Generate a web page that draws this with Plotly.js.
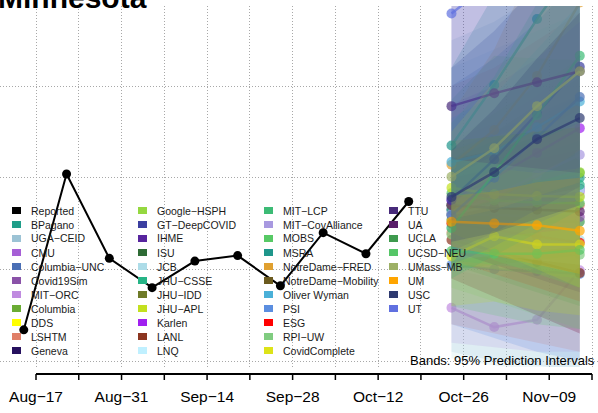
<!DOCTYPE html>
<html><head><meta charset="utf-8">
<script src="https://cdn.plot.ly/plotly-3.0.1.min.js"></script>
<style>html,body{margin:0;padding:0;background:#fff}#chart{width:598px;height:413px}</style>
</head><body><div id="chart"></div>
<script>
// ---------- data ----------
const reportedDates = ['2020-08-15','2020-08-22','2020-08-29','2020-09-05','2020-09-12','2020-09-19','2020-09-26','2020-10-03','2020-10-10','2020-10-17'];
const reportedValues = [43.4, 60.4, 51.2, 48.0, 50.9, 51.5, 48.2, 54.0, 51.7, 57.4];

const forecastDates = ['2020-10-24','2020-10-31','2020-11-07','2020-11-14'];

const tickDates = ['2020-08-17','2020-08-24','2020-08-31','2020-09-07','2020-09-14','2020-09-21','2020-09-28','2020-10-05','2020-10-12','2020-10-19','2020-10-26','2020-11-02','2020-11-09','2020-11-16'];
const tickLabels = ['Aug\u221217','','Aug\u221231','','Sep\u221214','','Sep\u221228','','Oct\u221212','','Oct\u221226','','Nov\u221209',''];
const gridValues = [40, 50, 60, 70];

const legendNames = ['Reported','BPagano','UGA\u2212CEID','CMU','Columbia\u2212UNC','Covid19Sim','MIT\u2212ORC','Columbia','DDS','LSHTM','Geneva',
  'Google\u2212HSPH','GT\u2212DeepCOVID','IHME','ISU','JCB','JHU\u2212CSSE','JHU\u2212IDD','JHU\u2212APL','Karlen','LANL','LNQ',
  'MIT\u2212LCP','MIT\u2212CovAlliance','MOBS','MSRA','NotreDame\u2212FRED','NotreDame\u2212Mobility','Oliver Wyman','PSI','ESG','RPI\u2212UW','CovidComplete',
  'TTU','UA','UCLA','UCSD\u2212NEU','UMass\u2212MB','UM','USC','UT'];
const legendColors = ['#000000','#1f9e89','#9cc3d5','#a65fd6','#4a6fb5','#8a52a8','#c08be0','#6aac34','#ffff00','#e07f68','#26105e',
  '#95d840','#3b3fa0','#57259e','#2e6b35','#addce8','#26b486','#6e7a28','#c3e01f','#a020f0','#8b3520','#c0f0ff',
  '#3cbb75','#a899e0','#57c965','#1f968b','#e0a030','#6b5a1e','#4ab0d8','#5b8ee0','#ff0000','#80cc80','#dde318',
  '#472a7a','#5a1f6a','#3e9a4e','#55c667','#9db066','#ffa500','#2e3a70','#6070e0'];

// forecasting models, in drawing order
const fcModels = ['JCB','MIT\u2212ORC','UGA\u2212CEID','LSHTM','PSI','LANL','RPI\u2212UW','ESG','UCLA','IHME','BPagano','Covid19Sim','Columbia','CMU',
  'LNQ','JHU\u2212CSSE','Google\u2212HSPH','MIT\u2212CovAlliance','Karlen','UA','MOBS','JHU\u2212APL','CovidComplete','UCSD\u2212NEU',
  'NotreDame\u2212FRED','Oliver Wyman','GT\u2212DeepCOVID','Columbia\u2212UNC','MIT\u2212LCP','MSRA','TTU','UT','UMass\u2212MB','UM','USC'];
const fcMedian = [
  [54.5,54.0,53.6,53.2],[45.8,43.7,44.5,49.9],[55.0,56.0,57.0,58.0],[54.0,55.0,56.0,57.0],[50.5,50.0,49.8,49.5],[53.2,52.0,50.8,49.6],
  [53.8,53.0,52.3,51.6],[55.0,54.3,53.6,52.9],[55.4,55.2,55.2,55.2],[56.5,57.5,58.2,58.8],[57.0,58.0,59.0,60.0],[56.0,55.9,55.8,55.7],
  [56.0,57.5,59.0,60.5],[57.0,57.5,58.0,58.5],[56.0,57.0,57.8,58.7],[56.5,57.4,58.3,59.2],[57.0,58.2,59.4,60.6],[56.0,58.0,60.3,62.5],
  [57.5,60.0,62.7,65.4],[57.0,56.7,56.5,56.3],[58.3,57.5,57.3,57.2],[58.9,58.2,58.0,57.9],[51.4,53.6,52.7,52.7],[52.0,51.7,51.7,52.1],
  [61.4,65.2,71.1,79.1],[61.7,62.8,65.5,68.3],[57.6,62.0,67.0,72.1],[55.9,60.0,64.4,68.8],[54.5,60.5,66.8,73.3],[63.5,70.1,77.3,83.8],
  [67.8,69.2,70.4,71.6],[77.9,81.6,85.9,90.3],[60.1,63.2,67.8,71.6],[55.2,55.0,54.8,54.2],[57.9,60.6,64.2,66.5]];
const fcLower = [
  [40.3,39.5,39,38.8],[42,41.5,41,41],[41,40,39.5,39],[44,43,42,41],[44,42.5,41,40],[49,47,45,43],
  [48,46.5,45,43.5],[51,49.5,48,46.5],[50.5,49,47.5,46],[53,53,53,53],[52,52,52,52],[49,47,45,43],
  [50,50.5,51,51.5],[52,51.5,51,50.5],[52,51.5,51,50.5],[51,50.5,50,49.5],[50.5,50,49.5,49],[51,51.5,52,52.5],
  [53,53.5,54,54.5],[52,50.5,49,47.5],[53,51,49.5,48],[54,52,50,48],[46,46.5,45.5,45],[46,45,44,43.5],
  [56,57.5,60,63],[57,56.5,57,57.5],[52,54,56.5,59],[50.5,52.5,55,57],[49,51.5,54,56.5],[58,61,64,66],
  [62,61.5,61,60.5],[64,64.5,65,65.5],[55.5,56.5,58,59.5],[52.5,51.5,50.5,49.5],[53,54,55.5,57]];
const fcUpper = [
  [72,74,76,78],[50,49,51,56],[75,77,80,84],[70,72,75,78],[60,61,62,63],[57.5,57.5,57.5,57.5],
  [59,60,60.5,61.5],[59,59.5,60,60.5],[60,61,62.5,64],[62,63,64,66],[62,64,66,68],[63,65,67,69],
  [62,65,68,71],[62,64,66,68],[60,62.5,65,67.5],[62,64,66.5,69],[64,67,70,73],[64,66,69,73],
  [68,70,73,77],[62,63,64.5,66],[68.5,73.3,73,72.8],[63,64.5,66,68],[57,61,60.5,61],[58,58.5,59.5,61],
  [67,74,84,96],[66.5,69,74,79],[72,76,81,87],[70,73,77,82],[66,71,79,90],[72,80,90,101],
  [82,85,88,92],[95,102,110,118],[65,70.5,77.5,85],[58,58.5,59.5,60],[63,67.5,73,78]];

// ---------- helpers ----------
function rgba(hex, a) {
  const n = parseInt(hex.slice(1), 16);
  return 'rgba(' + ((n >> 16) & 255) + ',' + ((n >> 8) & 255) + ',' + (n & 255) + ',' + a + ')';
}
function colorOf(name) { return legendColors[legendNames.indexOf(name)]; }
const W = 598, PLOT_TOP = 6, PLOT_BOTTOM = 367;
const PH = PLOT_BOTTOM - PLOT_TOP;
const px2x = p => p / W;
const px2y = p => (PLOT_BOTTOM - p) / PH;
const FONT = 'Liberation Sans, Arial, Helvetica, sans-serif';

// ---------- traces: each model's band, then its median line ----------
const traces = [];
fcModels.forEach((m, i) => {
  const c = colorOf(m);
  traces.push({
    type: 'scatter', mode: 'lines',
    x: forecastDates.concat(forecastDates.slice().reverse()),
    y: fcUpper[i].concat(fcLower[i].slice().reverse()),
    fill: 'toself', fillcolor: rgba(c, 0.2),
    line: {width: 0}, hoverinfo: 'skip', showlegend: false
  });
  traces.push({
    type: 'scatter', mode: 'lines+markers',
    x: forecastDates, y: fcMedian[i],
    line: {color: rgba(c, 0.7), width: 2.5},
    marker: {color: rgba(c, 0.7), size: 10},
    name: m, showlegend: false
  });
});
traces.push({
  type: 'scatter', mode: 'lines+markers',
  x: reportedDates, y: reportedValues,
  line: {color: '#000', width: 2},
  marker: {color: '#000', size: 9},
  name: 'Reported', showlegend: false
});

// ---------- shapes & annotations ----------
const shapes = [];
const annotations = [];
shapes.push({type: 'line', xref: 'x', yref: 'paper', x0: tickDates[0], x1: tickDates[tickDates.length - 1],
  y0: px2y(374), y1: px2y(374), line: {color: '#000', width: 1.8}});
tickDates.forEach(d => shapes.push({type: 'line', xref: 'x', yref: 'paper', x0: d, x1: d,
  y0: px2y(374), y1: px2y(380), line: {color: '#000', width: 1.5}}));

const colX = [12, 138, 264, 389];
const rowsPerCol = [11, 11, 11, 8];
let k = 0;
colX.forEach((cx, ci) => {
  for (let r = 0; r < rowsPerCol[ci]; r++, k++) {
    const cy = 210.5 + 14 * r;
    shapes.push({type: 'rect', xref: 'paper', yref: 'paper', x0: px2x(cx), x1: px2x(cx + 9),
      y0: px2y(cy + 3.5), y1: px2y(cy - 3.5), fillcolor: legendColors[k], line: {width: 0}});
    annotations.push({xref: 'paper', yref: 'paper', x: px2x(cx + 18), y: px2y(cy), xanchor: 'left', yanchor: 'middle',
      text: legendNames[k], showarrow: false, font: {family: FONT, size: 10.5, color: '#1a1a1a'}, borderpad: 0});
  }
});
annotations.push({xref: 'paper', yref: 'paper', x: px2x(596), y: px2y(360), xanchor: 'right', yanchor: 'middle',
  text: 'Bands: 95% Prediction Intervals', showarrow: false, font: {family: FONT, size: 13, color: '#000'}, borderpad: 0});
annotations.push({xref: 'paper', yref: 'paper', x: px2x(-3), y: px2y(15), xanchor: 'left', yanchor: 'bottom',
  text: 'Minnesota', showarrow: false, font: {family: FONT, size: 30, color: '#000', weight: 'bold'}, borderpad: 0});

const layout = {
  width: 598, height: 413,
  margin: {l: 0, r: 0, t: PLOT_TOP, b: 413 - PLOT_BOTTOM, pad: 0},
  paper_bgcolor: '#fff', plot_bgcolor: '#fff', showlegend: false,
  xaxis: {type: 'date', range: ['2020-08-11 02:35', '2020-11-16 23:34'],
    tickmode: 'array', tickvals: tickDates, ticktext: tickLabels,
    showgrid: true, gridcolor: '#a8a8a8', griddash: '1px,2px', gridwidth: 1,
    zeroline: false, showline: false, ticks: '', ticklabelstandoff: 18,
    tickfont: {family: FONT, size: 15.5, color: '#000'}},
  yaxis: {range: [39.345, 78.727], tickmode: 'array', tickvals: gridValues, showticklabels: false,
    showgrid: true, gridcolor: '#a8a8a8', griddash: '1px,2px', gridwidth: 1,
    zeroline: false, showline: false, ticks: ''},
  shapes: shapes, annotations: annotations
};

Plotly.newPlot('chart', traces, layout, {staticPlot: true, displayModeBar: false});
</script></body></html>
